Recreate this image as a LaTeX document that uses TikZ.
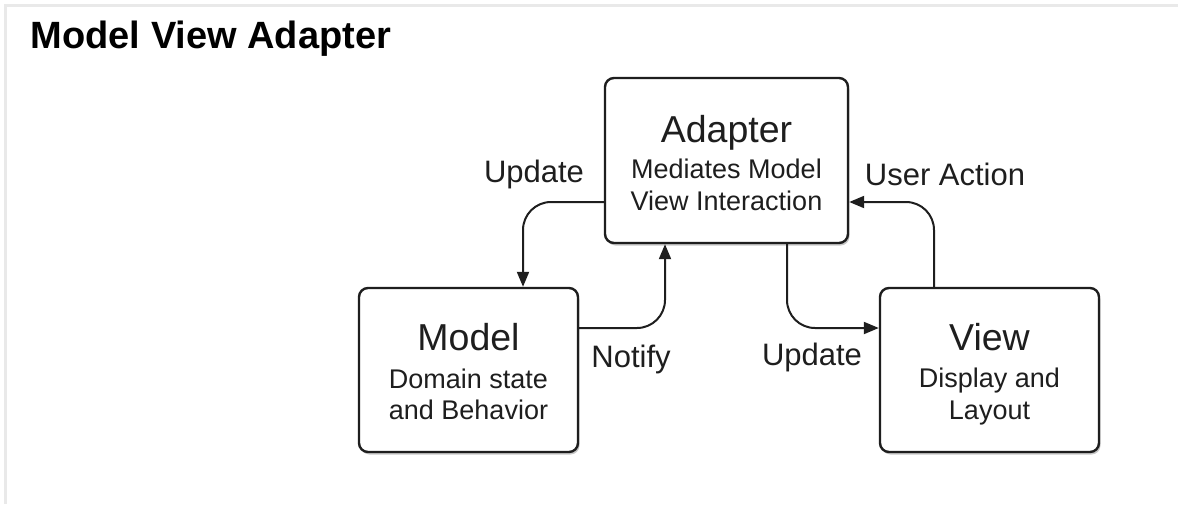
\documentclass[tikz,border=0pt]{standalone}
\usepackage{fontspec}
\setmainfont{Liberation Sans}
\usetikzlibrary{arrows.meta,shadows}
\definecolor{ink}{HTML}{1E1E1E}
\definecolor{frame}{HTML}{E9E9E9}
\tikzset{
  box/.style={draw=ink, line width=2.4pt, rounded corners=9pt, fill=white,
    drop shadow={shadow xshift=1.5pt, shadow yshift=-2.5pt, fill=black, opacity=0.22}},
  maintxt/.style={anchor=base, inner sep=0pt, text=ink, font=\fontsize{37.5}{40}\selectfont},
  subtxt/.style={anchor=base, inner sep=0pt, text=ink, font=\fontsize{27}{30}\selectfont},
  lbl/.style={anchor=base, inner sep=0pt, text=ink, font=\fontsize{31}{34}\selectfont},
  flow/.style={draw=ink, line width=2pt, rounded corners=28pt, -{Triangle[length=15pt,width=12pt]}}
}
\begin{document}
\begin{tikzpicture}[x=1pt,y=-1pt]
\useasboundingbox (0,0) rectangle (1178,504);
% frame
\draw[frame, line width=3pt] (1178,5.5) -- (5.5,5.5) -- (5.5,504);
% title
\node[anchor=base west, inner sep=0pt, text=black, font=\bfseries\fontsize{38}{40}\selectfont] (title) at (30.5,48) {Model View Adapter};
% boxes
\node[box, minimum width=243pt, minimum height=165pt] (adapter) at (726.5,160.5) {};
\node[box, minimum width=219pt, minimum height=164pt] (model) at (468.5,370) {};
\node[box, minimum width=219pt, minimum height=164pt] (view) at (989.5,370) {};
% box texts
\node[maintxt] (adapterT) at (726.5,142) {Adapter};
\node[subtxt] (adapterS1) at (726.5,178) {Mediates Model};
\node[subtxt] (adapterS2) at (726.5,210) {View Interaction};
\node[maintxt] (modelT) at (468.5,350) {Model};
\node[subtxt] (modelS1) at (468.5,388) {Domain state};
\node[subtxt] (modelS2) at (468.5,419) {and Behavior};
\node[maintxt] (viewT) at (989.5,350) {View};
\node[subtxt] (viewS1) at (989.5,387) {Display and};
\node[subtxt] (viewS2) at (989.5,419) {Layout};
% connectors
\draw[flow] ([yshift=-41.5pt]adapter.west) -| ([xshift=54.5pt]model.north);
\draw[flow] ([yshift=42pt]model.east) -| ([xshift=-61.5pt]adapter.south);
\draw[flow] ([xshift=60.5pt]adapter.south) |- ([yshift=42pt]view.west);
\draw[flow] ([xshift=-55.5pt]view.north) |- ([yshift=-41.5pt]adapter.east);
% connector labels
\node[lbl] (updL) at (534,182) {Update};
\node[lbl] (userA) at (945,185) {User Action};
\node[lbl] (notify) at (631,367) {Notify};
\node[lbl] (updR) at (812,365) {Update};
\end{tikzpicture}
\end{document}
